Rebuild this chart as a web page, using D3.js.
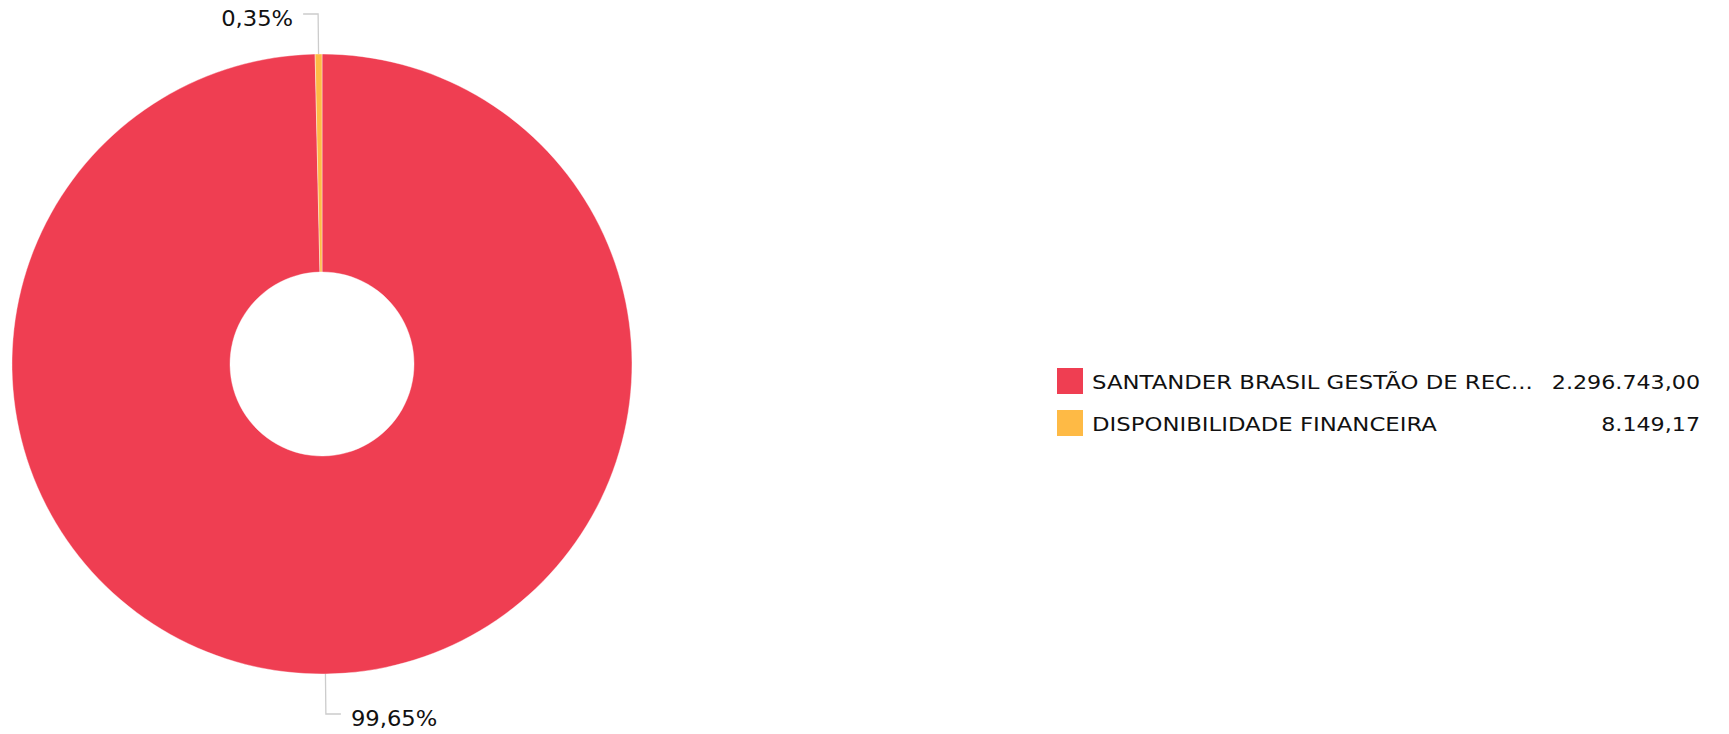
<!DOCTYPE html>
<html>
<head>
<meta charset="utf-8">
<script src="https://cdn.jsdelivr.net/npm/d3@7/dist/d3.min.js"></script>
<style>
  html, body { margin: 0; padding: 0; background: #fff; }
  svg { display: block; font-family: "DejaVu Sans", Verdana, sans-serif; }
</style>
</head>
<body>
<svg id="chart" width="1729" height="734"></svg>
<script>
const categories = ["SANTANDER BRASIL GESTÃO DE REC...", "DISPONIBILIDADE FINANCEIRA"];
const values = [2296743.00, 8149.17];
const valueLabels = ["2.296.743,00", "8.149,17"];
const percentLabels = ["99,65%", "0,35%"];
const colors = ["#EF3E52", "#FEBA45"];

const svg = d3.select("#chart");
const cx = 322, cy = 364, R = 310, r0 = 92;

const color = d3.scaleOrdinal().domain(categories).range(colors);
const pie = d3.pie().sort(null).value((d, i) => values[i]);
const arcs = pie(categories);
const arc = d3.arc().innerRadius(r0).outerRadius(R);

const g = svg.append("g").attr("transform", `translate(${cx},${cy})`);
g.selectAll("path.slice")
  .data(arcs)
  .join("path")
  .attr("class", "slice")
  .attr("d", arc)
  .attr("fill", d => color(d.data))
  .attr("stroke", "#fff")
  .attr("stroke-width", 0.4);

// labels with leader lines
const lineR = 350, hLen = 15, gap = 10;
arcs.forEach((d, i) => {
  const a = (d.startAngle + d.endAngle) / 2;
  const x0 = Math.sin(a) * R, y0 = -Math.cos(a) * R;
  const x1 = Math.sin(a) * lineR, y1 = -Math.cos(a) * lineR;
  const right = Math.sin(a) >= 0;
  const x2 = x1 + (right ? hLen : -hLen);
  g.append("polyline")
    .attr("points", `${x0},${y0} ${x1},${y1} ${x2},${y1}`)
    .attr("fill", "none")
    .attr("stroke", "#cccccc")
    .attr("stroke-width", 1.3);
  g.append("text")
    .attr("transform", `translate(${x2 + (right ? gap : -gap)},${y1 + 12}) scale(1.03,1)`)
    .attr("text-anchor", right ? "start" : "end")
    .attr("font-size", 22)
    .attr("fill", "#111")
    .text(percentLabels[i]);
});

// legend
const y = d3.scaleBand().domain(categories).range([368, 452]);
const leg = svg.append("g");
const items = leg.selectAll("g.item").data(categories).join("g").attr("class", "item")
  .attr("transform", d => `translate(0,${y(d)})`);
items.append("rect")
  .attr("x", 1057).attr("y", 0)
  .attr("width", 26).attr("height", 26)
  .attr("fill", d => color(d));
items.append("text")
  .attr("transform", "translate(1092,21) scale(1.14,1)")
  .attr("font-size", 20)
  .attr("fill", "#111")
  .text(d => d);
items.append("text")
  .attr("transform", "translate(1700,21) scale(1.11,1)")
  .attr("text-anchor", "end")
  .attr("font-size", 20)
  .attr("fill", "#111")
  .text((d, i) => valueLabels[i]);
</script>
</body>
</html>
